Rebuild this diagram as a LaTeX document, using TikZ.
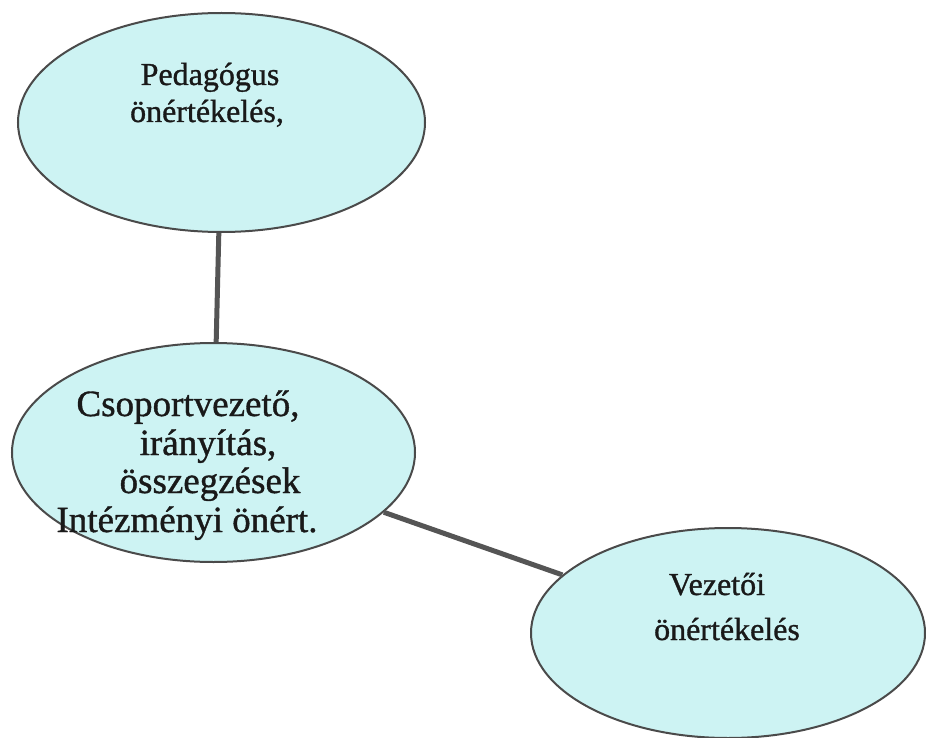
\documentclass[tikz,border=0pt]{standalone}
\usepackage{fontspec}
\setmainfont{Liberation Serif}
\usetikzlibrary{shapes.geometric}
\definecolor{bubblefill}{HTML}{CDF3F3}
\definecolor{rimcol}{HTML}{4A4A4A}
\definecolor{linkcol}{HTML}{555555}
\begin{document}
\begin{tikzpicture}[x=1pt,y=-1pt,
  bubble/.style={ellipse, draw=rimcol, line width=2pt, fill=bubblefill, inner sep=0pt},
  linkline/.style={draw=linkcol, line width=5pt},
  txt/.style={anchor=base, inner sep=0pt, text=black!90, font=\fontsize{32}{38}\selectfont\addfontfeature{FakeBold=1}},
  bigtxt/.style={txt, font=\fontsize{37}{39}\selectfont\addfontfeature{FakeBold=1}}]
\useasboundingbox (0,0) rectangle (926,738);
\clip (0,0) rectangle (926,738);
\node[bubble, minimum width=407pt, minimum height=219pt] (ped) at (221.5,122.5) {};
\node[bubble, minimum width=403pt, minimum height=219pt] (mid) at (213.5,452.5) {};
\node[bubble, minimum width=394pt, minimum height=210pt] (vez) at (728,633) {};
\draw[linkline] (ped) -- (mid);
\draw[linkline] (mid) -- (vez);
\node[txt] (p1) at (210,85) {Pedagógus};
\node[txt] (p2) at (207,122) {önértékelés,};
\node[bigtxt] (m1) at (188,416) {Csoportvezető,};
\node[bigtxt] (m2) at (208,455) {irányítás,};
\node[bigtxt] (m3) at (210,493) {összegzések};
\node[bigtxt] (m4) at (187,532) {Intézményi önért.};
\node[txt] (v1) at (717,595) {Vezetői};
\node[txt] (v2) at (727,640) {önértékelés};
\end{tikzpicture}
\end{document}
